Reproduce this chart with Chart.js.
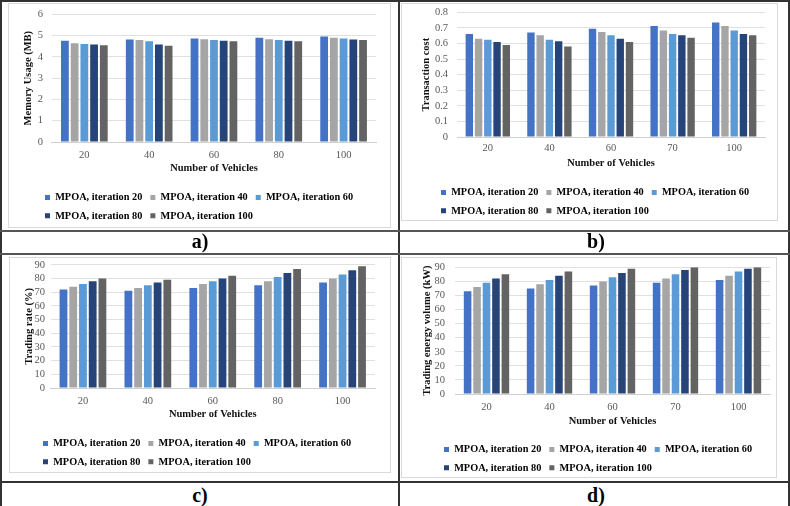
<!DOCTYPE html>
<html lang="en">
<head>
    <meta charset="UTF-8">
    <title>MPOA results</title>
    <script src="https://cdn.jsdelivr.net/npm/chart.js"></script>
    <style>
        body {
            margin: 0;
            background-color: #ffffff;
            font-family: "Liberation Serif", serif;
        }
        #page {
            position: relative;
            width: 790px;
            height: 506px;
            overflow: hidden;
        }
        .line {
            position: absolute;
            background: #333;
        }
        .box {
            position: absolute;
            border: 1px solid #d9d9d9;
            box-sizing: border-box;
        }
        canvas {
            position: absolute;
        }
        .tag {
            position: absolute;
            width: 396px;
            text-align: center;
            font-weight: bold;
            font-size: 20px;
            color: #000;
        }
    </style>
</head>
<body>
<div id="page">
    <div class="line" style="left:0;top:0;width:790px;height:2px"></div>
    <div class="line" style="left:0;top:0;width:2px;height:506px"></div>
    <div class="line" style="left:788px;top:0;width:2px;height:506px"></div>
    <div class="line" style="left:398px;top:0;width:2px;height:506px"></div>
    <div class="line" style="left:0;top:230px;width:790px;height:2px;background:#555"></div>
    <div class="line" style="left:0;top:253px;width:790px;height:2px;background:#555"></div>
    <div class="line" style="left:0;top:481px;width:790px;height:2px;background:#333"></div>

    <!-- excel chart frames -->
    <div class="box" style="left:8px;top:3px;width:383px;height:225px"></div>
    <div class="box" style="left:401px;top:3px;width:377px;height:218px"></div>
    <div class="box" style="left:9px;top:257px;width:382px;height:216px"></div>
    <div class="box" style="left:401px;top:257px;width:376px;height:221px"></div>

    <canvas id="chartA" style="left:8px;top:-1px" width="383" height="232"></canvas>
    <canvas id="chartB" style="left:401px;top:-3px" width="377" height="229"></canvas>
    <canvas id="chartC" style="left:9px;top:253px" width="382" height="224"></canvas>
    <canvas id="chartD" style="left:401px;top:251px" width="376" height="232"></canvas>

    <div class="tag" style="left:2px;top:230px">a)</div>
    <div class="tag" style="left:398px;top:230px">b)</div>
    <div class="tag" style="left:2px;top:484px">c)</div>
    <div class="tag" style="left:398px;top:484px">d)</div>
</div>

<script>
    // series names and colours (Excel default palette)
    const seriesNames = ['MPOA, iteration 20', 'MPOA, iteration 40', 'MPOA, iteration 60', 'MPOA, iteration 80', 'MPOA, iteration 100'];
    const seriesColors = ['#4472C4', '#A5A5A5', '#5B9BD5', '#264478', '#636363'];

    // a) memory usage
    const vehiclesA = ['20', '40', '60', '80', '100'];
    const memIter20 = [4.76, 4.82, 4.86, 4.90, 4.96];
    const memIter40 = [4.64, 4.79, 4.83, 4.83, 4.90];
    const memIter60 = [4.61, 4.73, 4.79, 4.79, 4.86];
    const memIter80 = [4.58, 4.58, 4.76, 4.76, 4.82];
    const memIter100 = [4.55, 4.52, 4.73, 4.73, 4.79];

    // b) transaction cost
    const vehiclesB = ['20', '40', '60', '70', '100'];
    const costIter20 = [0.66, 0.67, 0.695, 0.712, 0.734];
    const costIter40 = [0.631, 0.653, 0.674, 0.683, 0.712];
    const costIter60 = [0.624, 0.624, 0.653, 0.661, 0.683];
    const costIter80 = [0.61, 0.614, 0.631, 0.653, 0.661];
    const costIter100 = [0.59, 0.58, 0.61, 0.636, 0.653];

    // c) trading rate
    const vehiclesC = ['20', '40', '60', '80', '100'];
    const rateIter20 = [72, 71, 73, 75, 77];
    const rateIter40 = [74, 73, 76, 78, 80];
    const rateIter60 = [76, 75, 78, 81, 83];
    const rateIter80 = [78, 77, 80, 84, 86];
    const rateIter100 = [80, 79, 82, 87, 89];

    // d) trading energy volume
    const vehiclesD = ['20', '40', '60', '70', '100'];
    const volIter20 = [73, 75, 77, 79, 81];
    const volIter40 = [76, 78, 80, 82, 84];
    const volIter60 = [79, 81, 83, 85, 87];
    const volIter80 = [82, 84, 86, 88, 89];
    const volIter100 = [85, 87, 89, 90, 90];

    const serif = '"Liberation Serif", "Times New Roman", serif';

    // moves the legend so its rows start where excel puts them
    const legendShift = {
        id: 'legendShift',
        afterLayout(chart, args, opts) {
            const lg = chart.legend;
            if (!lg || opts.x == null) return;
            const w = lg.right - lg.left;
            lg.left = opts.x - 8;
            lg.right = lg.left + w;
        }
    };

    function makeChart(id, labels, series, yMax, yStep, yTitle, g) {
        const ctx = document.getElementById(id).getContext('2d');
        return new Chart(ctx, {
            type: 'bar',
            plugins: [legendShift],
            data: {
                labels: labels,
                datasets: series.map((vals, i) => ({
                    label: seriesNames[i],
                    data: vals,
                    backgroundColor: seriesColors[i],
                    borderWidth: 0,
                    categoryPercentage: 0.75,
                    barPercentage: 0.8
                }))
            },
            options: {
                responsive: false,
                animation: false,
                layout: { padding: g.pad },
                plugins: {
                    tooltip: { enabled: false },
                    legendShift: { x: g.legendX },
                    legend: {
                        position: 'bottom',
                        align: 'start',
                        labels: {
                            boxWidth: 5,
                            boxHeight: 5,
                            padding: 8,
                            color: '#000',
                            font: { family: serif, size: 10.3, weight: 'bold' }
                        }
                    }
                },
                scales: {
                    x: {
                        grid: { drawOnChartArea: false, drawTicks: false },
                        border: { color: '#cfcfcf' },
                        ticks: { color: '#595959', padding: g.xTick, font: { family: serif, size: 10.5 } },
                        title: {
                            display: true,
                            text: 'Number of Vehicles',
                            color: '#111',
                            padding: g.xTitle,
                            font: { family: serif, size: 10.5, weight: 'bold' }
                        }
                    },
                    y: {
                        min: 0,
                        max: yMax,
                        grid: { color: '#e0e0e0', drawTicks: false },
                        border: { display: false },
                        ticks: { stepSize: yStep, autoSkip: false, color: '#595959', padding: g.yTick, font: { family: serif, size: 10.5 } },
                        title: {
                            display: true,
                            text: yTitle,
                            color: '#111',
                            padding: g.yTitle,
                            font: { family: serif, size: 10.5, weight: 'bold' }
                        }
                    }
                }
            }
        });
    }

    makeChart('chartA', vehiclesA, [memIter20, memIter40, memIter60, memIter80, memIter100],
        6, 1, 'Memory Usage (MB)', {
            pad: { left: 14, right: 15, top: 0, bottom: 0 }, legendX: 37,
            xTick: 6.7, xTitle: { top: -6.3, bottom: 10.1 }, yTick: 9, yTitle: { top: 0, bottom: -5.9 }
        });
    makeChart('chartB', vehiclesB, [costIter20, costIter40, costIter60, costIter80, costIter100],
        0.8, 0.1, 'Transaction cost', {
            pad: { left: 18.7, right: 13, top: 0, bottom: 0 }, legendX: 40,
            xTick: 4.7, xTitle: { top: -2.3, bottom: 10.1 }, yTick: 9, yTitle: { top: 0, bottom: -6.4 }
        });
    makeChart('chartC', vehiclesC, [rateIter20, rateIter40, rateIter60, rateIter80, rateIter100],
        90, 10, 'Trading rate (%)', {
            pad: { left: 13.7, right: 16, top: 0, bottom: 0 }, legendX: 34,
            xTick: 6.7, xTitle: { top: -6.3, bottom: 10.1 }, yTick: 5.5, yTitle: { top: 0, bottom: -6.3 }
        });
    makeChart('chartD', vehiclesD, [volIter20, volIter40, volIter60, volIter80, volIter100],
        90, 10, 'Trading energy volume (kW)', {
            pad: { left: 19.7, right: 7, top: 0, bottom: 0 }, legendX: 43,
            xTick: 6.7, xTitle: { top: -5.3, bottom: 9.1 }, yTick: 10, yTitle: { top: 0, bottom: -8.8 }
        });
</script>
</body>
</html>
